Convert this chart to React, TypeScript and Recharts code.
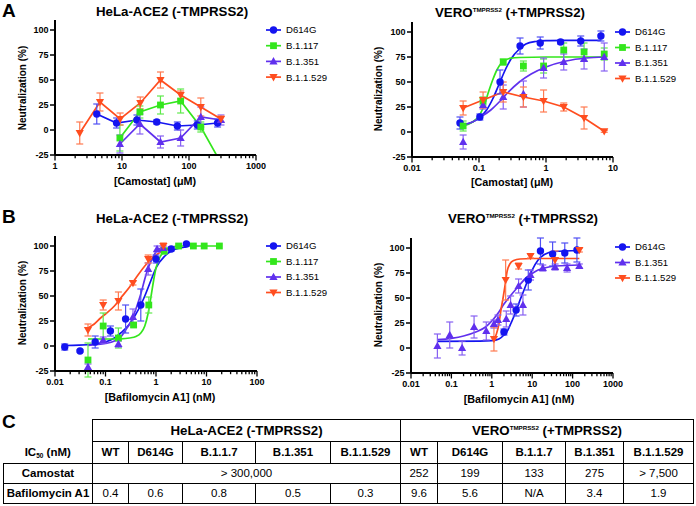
import React from 'react';
import { ComposedChart, XAxis, YAxis, Line, Scatter, ErrorBar } from 'recharts';

const FONT = '"Liberation Sans", Arial, Helvetica, sans-serif';

// ---------- series identity ----------
const NAMES = ['D614G', 'B.1.117', 'B.1.351', 'B.1.1.529'];
const COLORS: Record<string, string> = {
  'D614G': '#1414f0',
  'B.1.117': '#33e61c',
  'B.1.351': '#6030ee',
  'B.1.1.529': '#ff4d1f',
};
const ERR_COLORS: Record<string, string> = {
  'D614G': '#4f4ff4',
  'B.1.117': '#5fea4c',
  'B.1.351': '#8660f2',
  'B.1.1.529': '#ff7a50',
};
type ShapeKind = 'circle' | 'square' | 'up' | 'down';
const SHAPES: Record<string, ShapeKind> = {
  'D614G': 'circle',
  'B.1.117': 'square',
  'B.1.351': 'up',
  'B.1.1.529': 'down',
};

// ---------- shared axis values ----------
const Y_TICKS = [-25, 0, 25, 50, 75, 100];
const Y_TICK_LABELS = ['-25', '0', '25', '50', '75', '100'];

// ---------- Panel A left: Camostat, HeLa-ACE2 ----------
const A1_X_MAJOR = [1, 10, 100, 1000];
const A1_X_LABELS = ['1', '10', '100', '1000'];
const A1_D614G_X = [4.2, 8.3, 16.7, 33, 67, 133, 267];
const A1_D614G_Y = [16, 7, 10, 8, 4, 5, 7];
const A1_D614G_E = [10, 5, 5, 2, 4, 4, 4];
const A1_B117_X = [9.3, 18.5, 37.5, 75, 150, 300];
const A1_B117_Y = [-8, 18, 25, 29, 3, -33];
const A1_B117_E = [13, 6, 9, 12, 5, 0];
const A1_B1351_X = [9.3, 18.5, 37.5, 75, 150, 300];
const A1_B1351_Y = [-14, 6, -12, -8, 13, 10];
const A1_B1351_E = [9, 10, 6, 8, 10, 5];
const A1_B11529_X = [2.34, 4.69, 9.38, 18.75, 37.5, 75, 150, 300];
const A1_B11529_Y = [-3, 28, 11, 27, 50, 35, 23, 11];
const A1_B11529_E = [11, 9, 6, 6, 8, 4, 9, 3];

// ---------- Panel A right: Camostat, VERO-TMPRSS2 ----------
const A2_X_MAJOR = [0.01, 0.1, 1, 10];
const A2_X_LABELS = ['0.01', '0.1', '1', '10'];
const A2_D614G_X = [0.052, 0.103, 0.206, 0.41, 0.82, 1.65, 3.3, 6.6];
const A2_D614G_Y = [9, 15, 50, 86, 89, 90, 91, 96];
const A2_D614G_E = [6, 3, 12, 8, 6, 2, 5, 5];
const A2_VAR_X = [0.058, 0.115, 0.23, 0.46, 0.92, 1.84, 3.7, 7.4];
const A2_B117_Y = [6, 31, 70, 66, 66, 82, 80, 78];
const A2_B117_E = [5, 4, 3, 5, 7, 7, 9, 6];
const A2_B1351_Y = [-10, 27, 35, 38, 64, 70, 73, 75];
const A2_B1351_E = [7, 4, 12, 13, 10, 8, 10, 14];
const A2_B11529_Y = [24, 32, 40, 35, 31, 25, 14, 0.7];
const A2_B11529_E = [7, 8, 10, 10, 11, 4, 11, 1];
// fitted curves
const A2_FIT_D614G_X = [0.052, 0.08, 0.1, 0.13, 0.16, 0.2, 0.25, 0.3, 0.4, 0.5, 0.7, 1, 2, 6.6];
const A2_FIT_D614G_Y = [6.5, 10, 14, 22, 33, 48, 63, 73, 83, 88, 90.5, 91.3, 91.6, 91.7];
const A2_FIT_B117_X = [0.058, 0.08, 0.1, 0.12, 0.14, 0.16, 0.185, 0.21, 0.25, 0.3, 0.4, 1, 7.4];
const A2_FIT_B117_Y = [6, 10, 16, 27, 41, 52, 62, 68, 72, 73.8, 74.5, 75, 75];
const A2_FIT_B1351_X = [0.058, 0.08, 0.1, 0.15, 0.2, 0.275, 0.4, 0.6, 1, 2, 4, 7.4];
const A2_FIT_B1351_Y = [7, 10, 14, 22, 30, 40, 50, 58, 65, 71, 74, 75];

// ---------- Panel B left: Bafilomycin A1, HeLa-ACE2 ----------
const B1_X_MAJOR = [0.01, 0.1, 1, 10, 100];
const B1_X_LABELS = ['0.01', '0.1', '1', '10', '100'];
const B1_D614G_X = [0.0156, 0.0313, 0.0625, 0.125, 0.25, 0.5, 1, 2, 4];
const B1_D614G_Y = [-1, -5, 4, 15, 27, 41, 87, 97, 102];
const B1_D614G_E = [3, 1, 6, 5, 14, 16, 4, 2, 1];
const B1_B117_X = [0.045, 0.09, 0.18, 0.36, 0.72, 1.45, 2.8, 5.5, 9, 18];
const B1_B117_Y = [-14, 20, 8, 21, 41, 95, 100, 100, 100, 100];
const B1_B117_E = [17, 13, 10, 2, 8, 3, 0, 0, 0, 0];
const B1_B1351_X = [0.045, 0.09, 0.18, 0.35, 0.7, 1.05, 1.4];
const B1_B1351_Y = [-21, 6, 2, 29, 77, 97, 98];
const B1_B1351_E = [3, 3, 3, 8, 6, 3, 2];
const B1_B11529_X = [0.045, 0.09, 0.18, 0.35, 0.7, 1.4];
const B1_B11529_Y = [16, 41, 45, 63, 87, 100];
const B1_B11529_E = [6, 5, 9, 2, 4, 3];
const B1_FIT_D614G_X = [0.0156, 0.03, 0.06, 0.1, 0.15, 0.2, 0.3, 0.4, 0.5, 0.6, 0.8, 1, 1.5, 2, 3, 4];
const B1_FIT_D614G_Y = [0.5, 0.8, 2, 4, 8, 13, 22, 32, 41, 50, 66, 78, 90, 95, 98, 99];
const B1_FIT_B117_X = [0.045, 0.1, 0.2, 0.3, 0.4, 0.5, 0.6, 0.7, 0.8, 0.9, 1, 1.2, 1.5, 2, 3, 18];
const B1_FIT_B117_Y = [7, 7, 7.2, 8, 9.5, 13, 20, 33, 50, 66, 78, 89, 95, 99, 100, 100];
const B1_FIT_B1351_X = [0.045, 0.1, 0.15, 0.2, 0.25, 0.3, 0.35, 0.4, 0.5, 0.6, 0.7, 0.85, 1, 1.2, 1.4];
const B1_FIT_B1351_Y = [0.7, 2.5, 5, 9, 16, 22, 29, 37, 52, 67, 78, 88, 94, 97.5, 99];
const B1_FIT_B11529_X = [0.045, 0.06, 0.08, 0.1, 0.15, 0.2, 0.3, 0.4, 0.6, 0.8, 1, 1.5, 2];
const B1_FIT_B11529_Y = [18, 22, 28, 32, 40, 48, 59, 68, 80, 87, 91, 96, 98];

// ---------- Panel B right: Bafilomycin A1, VERO-TMPRSS2 ----------
const B2_X_MAJOR = [0.01, 0.1, 1, 10, 100, 1000];
const B2_X_LABELS = ['0.01', '0.1', '1', '10', '100', '1000'];
const B2_D614G_X = [2, 4, 8, 16, 32, 64, 128];
const B2_D614G_Y = [16, 38, 68, 97, 94, 95, 98];
const B2_D614G_E = [3, 6, 10, 13, 12, 10, 12];
const B2_B1351_X = [0.045, 0.091, 0.184, 0.364, 0.73, 1.13, 1.42, 2.28, 2.92, 4.6, 5.9, 9.1, 18.3, 36.8, 73, 147];
const B2_B1351_Y = [2, 13, 0, 21, 17, 24, 28, 29, 43, 62, 43, 73, 80, 81, 80, 82];
const B2_B1351_E = [12, 13, 7, 11, 9, 4, 5, 8, 9, 7, 10, 5, 3, 3, 4, 2];
const B2_B11529_X = [1.13, 2.2, 4.6, 9.1, 36.8, 147];
const B2_B11529_Y = [9, 68, 82, 92, 88, 98];
const B2_B11529_E = [12, 20, 3, 2, 9, 2];
const B2_FIT_D614G_X = [0.045, 0.5, 1, 1.5, 2, 2.5, 3, 4, 5, 6, 7, 8, 10, 14, 20, 35, 147];
const B2_FIT_D614G_Y = [6.7, 6.8, 7.3, 9, 13, 18, 25, 37, 48, 56, 63, 69, 78, 88, 93.5, 96.5, 97.5];
const B2_FIT_B1351_X = [0.045, 0.1, 0.2, 0.4, 0.7, 1, 1.5, 2, 3, 4, 5, 7, 10, 14, 20, 40, 147];
const B2_FIT_B1351_Y = [8.3, 9.7, 12, 16, 21, 27, 36, 44, 53, 59, 63.5, 70, 74.5, 78, 80, 82, 83];
const B2_FIT_B11529_X = [1.13, 1.3, 1.5, 1.7, 1.9, 2.1, 2.4, 2.8, 3.5, 5, 10, 147];
const B2_FIT_B11529_Y = [8.3, 14, 24, 39, 50, 61, 77, 84, 87.5, 89, 89.5, 89.5];

// ---------- Table C ----------
const TABLE_VARIANTS = ['WT', 'D614G', 'B.1.1.7', 'B.1.351', 'B.1.1.529'];
const CAMOSTAT_HELA = '> 300,000';
const CAMOSTAT_VERO = ['252', '199', '133', '275', '> 7,500'];
const BAFILO_HELA = ['0.4', '0.6', '0.8', '0.5', '0.3'];
const BAFILO_VERO = ['9.6', '5.6', 'N/A', '3.4', '1.9'];

// ---------- helpers ----------
type Pt = { x: number; y: number; e: number };
type XY = { x: number; y: number };
type SeriesDef = { name: string; pts: Pt[]; line: XY[]; lineType: 'linear' | 'monotone' };

const zip3 = (xs: number[], ys: number[], es: number[]): Pt[] => xs.map((x, i) => ({ x, y: ys[i], e: es[i] }));
const zip2 = (xs: number[], ys: number[]): XY[] => xs.map((x, i) => ({ x, y: ys[i] }));

const withMinors = (majors: number[]) => {
  const out: number[] = [];
  majors.forEach((m, i) => {
    out.push(m);
    if (i < majors.length - 1) for (let k = 2; k <= 9; k++) out.push(+(m * k).toPrecision(6));
  });
  return out;
};

function MarkerShape({ kind, cx, cy, color }: { kind: ShapeKind; cx: number; cy: number; color: string }) {
  if (cx == null || cy == null || isNaN(cx) || isNaN(cy)) return null;
  if (kind === 'circle') return <circle cx={cx} cy={cy} r={3.7} fill={color} />;
  if (kind === 'square') return <rect x={cx - 3.4} y={cy - 3.4} width={6.8} height={6.8} fill={color} />;
  if (kind === 'up') return <polygon points={`${cx},${cy - 4.3} ${cx + 4.1},${cy + 3} ${cx - 4.1},${cy + 3}`} fill={color} />;
  return <polygon points={`${cx},${cy + 4.3} ${cx + 4.1},${cy - 3} ${cx - 4.1},${cy - 3}`} fill={color} />;
}

const PLOT_H = 135;
const TOP_PAD = 6;
const RIGHT_PAD = 18;
const YAXIS_W = 50;
const XAXIS_H = 24;

function DosePanel({ plotLeft, plotTop, plotW, xDomain, xMajors, xLabels, series }: {
  plotLeft: number; plotTop: number; plotW: number; xDomain: [number, number];
  xMajors: number[]; xLabels: string[]; series: SeriesDef[];
}) {
  const xTicks = withMinors(xMajors);
  const XTick = (p: any) => {
    const { x, y, payload } = p;
    const v = payload.value;
    const idx = xMajors.findIndex((m) => Math.abs(m - v) / m < 1e-6);
    const major = idx >= 0;
    return (
      <g>
        <line x1={x} x2={x} y1={y} y2={y + (major ? 5.5 : 3.2)} stroke="#000" strokeWidth={1.3} />
        {major && (
          <text x={x} y={y + 14.2} textAnchor="middle" fontSize={9} fontWeight="bold" fontFamily={FONT} fill="#000">
            {xLabels[idx]}
          </text>
        )}
      </g>
    );
  };
  const YTick = (p: any) => {
    const { x, y, payload } = p;
    const idx = Y_TICKS.indexOf(payload.value);
    return (
      <g>
        <line x1={x - 5} x2={x} y1={y} y2={y} stroke="#000" strokeWidth={1.5} />
        <text x={x - 6.5} y={y + 3.3} textAnchor="end" fontSize={9} fontWeight="bold" fontFamily={FONT} fill="#000">
          {Y_TICK_LABELS[idx]}
        </text>
      </g>
    );
  };
  return (
    <div style={{ position: 'absolute', left: plotLeft - YAXIS_W, top: plotTop - TOP_PAD }}>
      <ComposedChart
        width={YAXIS_W + plotW + RIGHT_PAD}
        height={TOP_PAD + PLOT_H + XAXIS_H}
        margin={{ top: TOP_PAD, right: RIGHT_PAD, bottom: 0, left: 0 }}
      >
        <XAxis
          type="number"
          dataKey="x"
          scale="log"
          domain={xDomain}
          allowDataOverflow
          ticks={xTicks}
          interval={0}
          tickSize={0}
          tickMargin={0}
          tickLine={false}
          axisLine={{ stroke: '#000', strokeWidth: 2 }}
          tick={XTick}
          height={XAXIS_H}
        />
        <YAxis
          type="number"
          domain={[-25, 110]}
          allowDataOverflow
          ticks={Y_TICKS}
          interval={0}
          tickSize={0}
          tickMargin={0}
          tickLine={false}
          axisLine={{ stroke: '#000', strokeWidth: 2 }}
          tick={YTick}
          width={YAXIS_W}
        />
        {series.map((s) => (
          <Line
            key={'l-' + s.name}
            data={s.line}
            dataKey="y"
            type={s.lineType}
            stroke={COLORS[s.name]}
            strokeWidth={1.7}
            dot={false}
            activeDot={false}
            isAnimationActive={false}
          />
        ))}
        {series.map((s) => (
          <Scatter
            key={'s-' + s.name}
            data={s.pts}
            dataKey="y"
            fill={COLORS[s.name]}
            isAnimationActive={false}
            shape={(p: any) => <MarkerShape kind={SHAPES[s.name]} cx={p.cx} cy={p.cy} color={COLORS[s.name]} />}
          >
            <ErrorBar dataKey="e" direction="y" width={3.5} stroke={ERR_COLORS[s.name]} strokeWidth={1.2} />
          </Scatter>
        ))}
      </ComposedChart>
    </div>
  );
}

// ---------- series per panel ----------
const A1_SERIES: SeriesDef[] = [
  { name: 'D614G', pts: zip3(A1_D614G_X, A1_D614G_Y, A1_D614G_E), line: zip2(A1_D614G_X, A1_D614G_Y), lineType: 'linear' },
  { name: 'B.1.117', pts: zip3(A1_B117_X, A1_B117_Y, A1_B117_E), line: zip2(A1_B117_X, A1_B117_Y), lineType: 'linear' },
  { name: 'B.1.351', pts: zip3(A1_B1351_X, A1_B1351_Y, A1_B1351_E), line: zip2(A1_B1351_X, A1_B1351_Y), lineType: 'linear' },
  { name: 'B.1.1.529', pts: zip3(A1_B11529_X, A1_B11529_Y, A1_B11529_E), line: zip2(A1_B11529_X, A1_B11529_Y), lineType: 'linear' },
];
const A2_SERIES: SeriesDef[] = [
  { name: 'D614G', pts: zip3(A2_D614G_X, A2_D614G_Y, A2_D614G_E), line: zip2(A2_FIT_D614G_X, A2_FIT_D614G_Y), lineType: 'monotone' },
  { name: 'B.1.117', pts: zip3(A2_VAR_X, A2_B117_Y, A2_B117_E), line: zip2(A2_FIT_B117_X, A2_FIT_B117_Y), lineType: 'monotone' },
  { name: 'B.1.351', pts: zip3(A2_VAR_X, A2_B1351_Y, A2_B1351_E), line: zip2(A2_FIT_B1351_X, A2_FIT_B1351_Y), lineType: 'monotone' },
  { name: 'B.1.1.529', pts: zip3(A2_VAR_X, A2_B11529_Y, A2_B11529_E), line: zip2(A2_VAR_X, A2_B11529_Y), lineType: 'linear' },
];
const B1_SERIES: SeriesDef[] = [
  { name: 'D614G', pts: zip3(B1_D614G_X, B1_D614G_Y, B1_D614G_E), line: zip2(B1_FIT_D614G_X, B1_FIT_D614G_Y), lineType: 'monotone' },
  { name: 'B.1.117', pts: zip3(B1_B117_X, B1_B117_Y, B1_B117_E), line: zip2(B1_FIT_B117_X, B1_FIT_B117_Y), lineType: 'monotone' },
  { name: 'B.1.351', pts: zip3(B1_B1351_X, B1_B1351_Y, B1_B1351_E), line: zip2(B1_FIT_B1351_X, B1_FIT_B1351_Y), lineType: 'monotone' },
  { name: 'B.1.1.529', pts: zip3(B1_B11529_X, B1_B11529_Y, B1_B11529_E), line: zip2(B1_FIT_B11529_X, B1_FIT_B11529_Y), lineType: 'monotone' },
];
const B2_SERIES: SeriesDef[] = [
  { name: 'D614G', pts: zip3(B2_D614G_X, B2_D614G_Y, B2_D614G_E), line: zip2(B2_FIT_D614G_X, B2_FIT_D614G_Y), lineType: 'monotone' },
  { name: 'B.1.351', pts: zip3(B2_B1351_X, B2_B1351_Y, B2_B1351_E), line: zip2(B2_FIT_B1351_X, B2_FIT_B1351_Y), lineType: 'monotone' },
  { name: 'B.1.1.529', pts: zip3(B2_B11529_X, B2_B11529_Y, B2_B11529_E), line: zip2(B2_FIT_B11529_X, B2_FIT_B11529_Y), lineType: 'monotone' },
];

// ---------- overlay pieces ----------
function LegendBlock({ names, x, y, step }: { names: string[]; x: number; y: number; step: number }) {
  return (
    <g>
      {names.map((n, i) => {
        const cy = y + i * step;
        return (
          <g key={n}>
            <line x1={x} x2={x + 15} y1={cy} y2={cy} stroke={COLORS[n]} strokeWidth={1.7} />
            <MarkerShape kind={SHAPES[n]} cx={x + 7.5} cy={cy} color={COLORS[n]} />
            <text x={x + 20} y={cy + 3.4} fontSize={9.6} fontFamily={FONT} fill="#000">{n}</text>
          </g>
        );
      })}
    </g>
  );
}

function Title({ cx, y, vero }: { cx: number; y: number; vero: boolean }) {
  if (!vero)
    return (
      <text x={cx} y={y} textAnchor="middle" fontSize={13.3} fontWeight="bold" fontFamily={FONT} fill="#000">
        HeLa-ACE2 (-TMPRSS2)
      </text>
    );
  return (
    <text x={cx} y={y} textAnchor="middle" fontSize={13.3} fontWeight="bold" fontFamily={FONT} fill="#000">
      VERO<tspan fontSize={6.2} dy={-5}>TMPRSS2</tspan>
      <tspan dy={5}> (+TMPRSS2)</tspan>
    </text>
  );
}

function YTitle({ cx, cy }: { cx: number; cy: number }) {
  return (
    <text
      x={cx}
      y={cy + 3.6}
      transform={`rotate(-90 ${cx} ${cy})`}
      textAnchor="middle"
      fontSize={10}
      fontWeight="bold"
      fontFamily={FONT}
      fill="#000"
    >
      Neutralization (%)
    </text>
  );
}

function XTitle({ cx, y, children }: { cx: number; y: number; children: React.ReactNode }) {
  return (
    <text x={cx} y={y} textAnchor="middle" fontSize={10.8} fontWeight="bold" fontFamily={FONT} fill="#000">
      {children}
    </text>
  );
}

const cellB: React.CSSProperties = {
  border: '1px solid #000',
  padding: 0,
  textAlign: 'center',
  verticalAlign: 'middle',
  lineHeight: 1,
  whiteSpace: 'nowrap',
  overflow: 'hidden',
};

function IcTable() {
  const colW = [89, 36, 54, 73, 75, 70, 37, 65, 63, 58, 70];
  return (
    <table
      style={{
        position: 'absolute',
        left: 3,
        top: 419,
        width: 690,
        borderCollapse: 'collapse',
        tableLayout: 'fixed',
        fontFamily: FONT,
        fontSize: 11.5,
        color: '#000',
      }}
    >
      <colgroup>
        {colW.map((w, i) => (
          <col key={i} style={{ width: w }} />
        ))}
      </colgroup>
      <tbody>
        <tr style={{ height: 22 }}>
          <td style={{ padding: 0, border: 'none' }} />
          <td colSpan={5} style={{ ...cellB, fontWeight: 'bold', fontSize: 13.3 }}>HeLa-ACE2 (-TMPRSS2)</td>
          <td colSpan={5} style={{ ...cellB, fontWeight: 'bold', fontSize: 13.3 }}>
            VERO<span style={{ fontSize: 6.2, verticalAlign: 'top', position: 'relative', top: 1 }}>TMPRSS2</span> (+TMPRSS2)
          </td>
        </tr>
        <tr style={{ height: 22 }}>
          <td style={{ padding: 0, border: 'none', textAlign: 'center', fontWeight: 'bold', verticalAlign: 'middle', lineHeight: 1 }}>
            IC<span style={{ fontSize: 6.5, position: 'relative', top: 2 }}>50</span> (nM)
          </td>
          {[...TABLE_VARIANTS, ...TABLE_VARIANTS].map((v, i) => (
            <td key={i} style={{ ...cellB, fontWeight: 'bold' }}>{v}</td>
          ))}
        </tr>
        <tr style={{ height: 20 }}>
          <td style={{ ...cellB, fontWeight: 'bold' }}>Camostat</td>
          <td colSpan={5} style={cellB}>{CAMOSTAT_HELA}</td>
          {CAMOSTAT_VERO.map((v, i) => (
            <td key={i} style={cellB}>{v}</td>
          ))}
        </tr>
        <tr style={{ height: 20 }}>
          <td style={{ ...cellB, fontWeight: 'bold' }}>Bafilomycin A1</td>
          {[...BAFILO_HELA, ...BAFILO_VERO].map((v, i) => (
            <td key={i} style={cellB}>{v}</td>
          ))}
        </tr>
      </tbody>
    </table>
  );
}

export default function App() {
  return (
    <div
      style={{
        position: 'absolute',
        left: 0,
        top: 0,
        width: 696,
        height: 506,
        background: '#fff',
        overflow: 'hidden',
        fontFamily: FONT,
      }}
    >
      <DosePanel plotLeft={55} plotTop={20} plotW={201} xDomain={[1, 1000]} xMajors={A1_X_MAJOR} xLabels={A1_X_LABELS} series={A1_SERIES} />
      <DosePanel plotLeft={412} plotTop={22} plotW={201} xDomain={[0.01, 10]} xMajors={A2_X_MAJOR} xLabels={A2_X_LABELS} series={A2_SERIES} />
      <DosePanel plotLeft={55} plotTop={236} plotW={202} xDomain={[0.01, 100]} xMajors={B1_X_MAJOR} xLabels={B1_X_LABELS} series={B1_SERIES} />
      <DosePanel plotLeft={411} plotTop={238} plotW={202} xDomain={[0.01, 1000]} xMajors={B2_X_MAJOR} xLabels={B2_X_LABELS} series={B2_SERIES} />

      <svg width={696} height={506} style={{ position: 'absolute', left: 0, top: 0, pointerEvents: 'none' }}>
        <text x={2} y={17} fontSize={19} fontWeight="bold" fontFamily={FONT} fill="#000">A</text>
        <text x={2} y={223} fontSize={19} fontWeight="bold" fontFamily={FONT} fill="#000">B</text>
        <text x={2} y={428} fontSize={19} fontWeight="bold" fontFamily={FONT} fill="#000">C</text>

        <Title cx={172} y={16} vero={false} />
        <Title cx={510} y={16.5} vero={true} />
        <Title cx={172} y={223} vero={false} />
        <Title cx={523} y={223} vero={true} />

        <YTitle cx={22} cy={88} />
        <YTitle cx={378} cy={89} />
        <YTitle cx={22} cy={303} />
        <YTitle cx={378} cy={305} />

        <XTitle cx={155} y={185}>[Camostat] (μM)</XTitle>
        <XTitle cx={512} y={186}>[Camostat] (μM)</XTitle>
        <XTitle cx={160} y={401}>[Bafilomycin A1] (nM)</XTitle>
        <XTitle cx={519} y={403}>[Bafilomycin A1] (nM)</XTitle>

        <LegendBlock names={NAMES} x={266} y={30} step={15.7} />
        <LegendBlock names={NAMES} x={615} y={32} step={15.5} />
        <LegendBlock names={NAMES} x={266} y={246} step={15.5} />
        <LegendBlock names={['D614G', 'B.1.351', 'B.1.1.529']} x={615} y={247} step={15.5} />
      </svg>

      <IcTable />
    </div>
  );
}
